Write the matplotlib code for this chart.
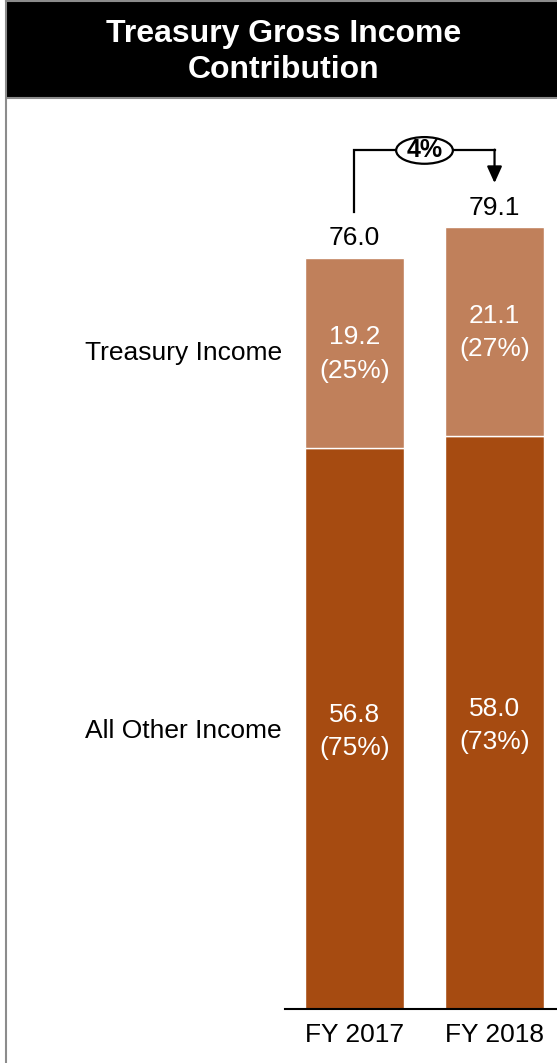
import numpy as np
import matplotlib.pyplot as plt
from matplotlib.patches import Rectangle, Ellipse
from matplotlib.lines import Line2D

plt.rcParams['font.family'] = ['Liberation Sans', 'DejaVu Sans']

years = ['FY 2017', 'FY 2018']
other_income = [56.8, 58.0]
treasury_income = [19.2, 21.1]
other_share = ['75%', '73%']
treasury_share = ['25%', '27%']
totals = [76.0, 79.1]
growth = '4%'

dark = '#A64B11'
light = '#C0805B'
fs = 19

W, H = 557, 1063
fig = plt.figure(figsize=(W / 100, H / 100), dpi=100)

# header box and frame
fig.patches.append(Rectangle((7 / W, 1 - 97 / H), 1, 97 / H, transform=fig.transFigure,
                             facecolor='black', edgecolor='none', zorder=0))
fig.lines.append(Line2D([7 / W, 1], [1 - 98 / H] * 2, transform=fig.transFigure,
                        color='#8c8c8c', lw=1.5))
fig.lines.append(Line2D([6 / W] * 2, [0, 1], transform=fig.transFigure,
                        color='#8c8c8c', lw=1.5))
fig.lines.append(Line2D([6 / W, 1], [1 - 1 / H] * 2, transform=fig.transFigure,
                        color='#8c8c8c', lw=1.5))
fig.text(284 / W, 1 - 52 / H, 'Treasury Gross Income\nContribution', color='white',
         fontsize=23, fontweight='bold', ha='center', va='center', linespacing=1.22)

# axes: baseline at y=1009px, 140px between bar centres
px_per_unit = 9.88
bottom_px, top_px = 1009, 100
ax = fig.add_axes([285 / W, 1 - bottom_px / H, 1 - 285 / W, (bottom_px - top_px) / H])
ax.set_xlim(-0.496, 1.446)
ax.set_ylim(0, (bottom_px - top_px) / px_per_unit)
for s in ['top', 'right', 'left']:
    ax.spines[s].set_visible(False)
ax.spines['bottom'].set_linewidth(1.5)
ax.set_yticks([])
x = np.arange(len(years))
ax.set_xticks(x)
ax.set_xticklabels(years, fontsize=fs)
ax.tick_params(axis='x', length=0, pad=10)

ax.bar(x, other_income, width=0.707, color=dark, edgecolor='white', linewidth=1)
ax.bar(x, treasury_income, width=0.707, bottom=other_income, color=light,
       edgecolor='white', linewidth=1)

for i in range(len(years)):
    ax.text(x[i], other_income[i] / 2 - 0.3, f'{other_income[i]:.1f}\n({other_share[i]})',
            color='white', fontsize=fs, ha='center', va='center', linespacing=1.5)
    ax.text(x[i], other_income[i] + treasury_income[i] / 2 - 0.1,
            f'{treasury_income[i]:.1f}\n({treasury_share[i]})',
            color='white', fontsize=fs, ha='center', va='center', linespacing=1.5)
    ax.text(x[i], totals[i] + 0.8, f'{totals[i]:.1f}', fontsize=fs, ha='center', va='bottom')

# row labels on the left
ax.text(-0.518, other_income[0] + treasury_income[0] / 2, 'Treasury Income', fontsize=fs,
        ha='right', va='center', clip_on=False)
ax.text(-0.518, other_income[0] / 2 - 0.3, 'All Other Income', fontsize=fs,
        ha='right', va='center', clip_on=False)

# growth bracket
y_top = totals[1] + 7.8
ax.plot([x[0], x[0], x[1]], [totals[0] + 4.7, y_top, y_top], color='black', lw=1.6,
        solid_joinstyle='miter')
ax.annotate('', xy=(x[1], totals[1] + 4.5), xytext=(x[1], y_top + 0.08),
            arrowprops=dict(arrowstyle='-|>,head_width=0.45,head_length=1.0',
                            color='black', lw=1.6, shrinkA=0, shrinkB=0))
ax.add_patch(Ellipse((0.5, y_top), 0.405, 2.7, facecolor='white', edgecolor='black',
                     lw=1.6, zorder=3))
ax.text(0.5, y_top, growth, fontsize=18, fontweight='bold', ha='center', va='center', zorder=4)

fig.savefig('out.png', dpi=100)
